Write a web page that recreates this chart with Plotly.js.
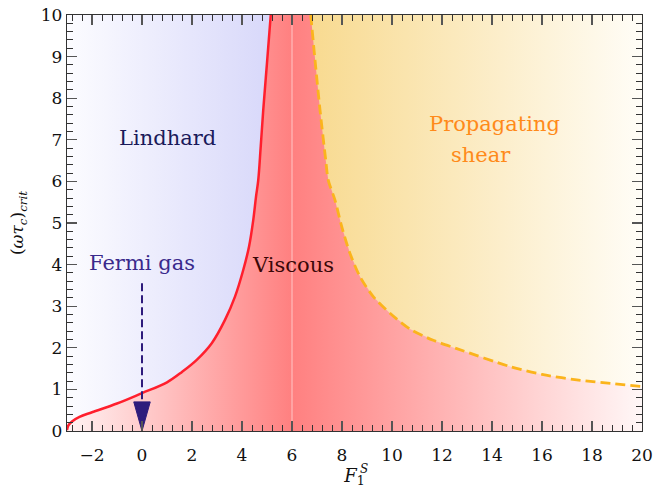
<!DOCTYPE html>
<html>
<head>
<meta charset="utf-8">
<script src="https://cdn.plot.ly/plotly-3.0.1.min.js"></script>
<style>html,body{margin:0;padding:0;background:#fff;}#chart{width:654px;height:495px;}</style>
</head>
<body>
<div id="chart"></div>
<script>
// Boundary between Lindhard and Viscous regimes (solid red)
const redX = [-3, -2.95, -2.8, -2.5, -2, -1, 0, 1, 1.6, 2.19, 2.79, 3.32, 3.72, 4.05, 4.28, 4.45, 4.56, 4.65, 4.75, 4.85, 5.0, 5.15];
const redY = [0.02, 0.13, 0.23, 0.34, 0.45, 0.66, 0.91, 1.17, 1.42, 1.71, 2.11, 2.67, 3.23, 3.87, 4.43, 5.07, 5.63, 6.03, 6.85, 7.72, 8.85, 10];
// Boundary between Viscous and Propagating shear regimes (dashed orange)
const orangeX = [6.75, 6.92, 7.12, 7.35, 7.45, 7.72, 7.99, 8.32, 8.72, 9.25, 9.92, 10.72, 11.65, 12.59, 14.72, 16, 17.39, 20];
const orangeY = [10, 8.92, 7.72, 6.51, 6.03, 5.55, 4.91, 4.27, 3.71, 3.23, 2.83, 2.45, 2.18, 1.98, 1.55, 1.36, 1.23, 1.07];
// Axis ranges and ticks
const xRange = [-3, 20];
const yRange = [0, 10];
const xTicks = [-2, 0, 2, 4, 6, 8, 10, 12, 14, 16, 18, 20];
const yTicks = [0, 1, 2, 3, 4, 5, 6, 7, 8, 9, 10];
const xSplit = 6;            // gradient peak of the viscous region
const fermiX = 0;            // Fermi gas point
const fermiArrowTop = 3.55;  // arrow starts here
const regionLabels = ["Lindhard", "Fermi gas", "Viscous", "Propagating", "shear"];

const [x0, x1] = xRange, [y0, y1] = yRange;

const traces = [];
// Viscous region, left half
traces.push({x:[x0, xSplit, xSplit, x0, x0], y:[y0, y0, y1, y1, y0], mode:'lines', line:{width:0},
  fill:'toself', fillgradient:{type:'horizontal', start:x0, stop:xSplit, colorscale:[[0,'#fff3f3'],[1,'#ff8080']]},
  hoverinfo:'skip', showlegend:false});
// Viscous region, right half
traces.push({x:[xSplit, x1, x1, xSplit, xSplit], y:[y0, y0, y1, y1, y0], mode:'lines', line:{width:0},
  fill:'toself', fillgradient:{type:'horizontal', start:xSplit, stop:x1, colorscale:[[0,'#ff8080'],[1,'#fff7f7']]},
  hoverinfo:'skip', showlegend:false});
// Lindhard region (above red curve)
traces.push({x:redX.concat([x0, x0]), y:redY.concat([y1, redY[0]]), mode:'lines', line:{width:0},
  fill:'toself', fillgradient:{type:'horizontal', start:x0, stop:redX[redX.length-1], colorscale:[[0,'#fcfcff'],[1,'#d8d8fa']]},
  hoverinfo:'skip', showlegend:false});
// Propagating shear region (above orange curve)
traces.push({x:orangeX.concat([x1, orangeX[0]]), y:orangeY.concat([y1, orangeY[0]]), mode:'lines', line:{width:0},
  fill:'toself', fillgradient:{type:'horizontal', start:orangeX[0], stop:x1, colorscale:[[0,'#f8da90'],[1,'#fffdf7']]},
  hoverinfo:'skip', showlegend:false});
// Seam line at xSplit
traces.push({x:[xSplit, xSplit], y:[y0, y1], mode:'lines', line:{color:'rgba(255,255,255,0.55)', width:1}, hoverinfo:'skip', showlegend:false});
// Red boundary
traces.push({x:redX, y:redY, mode:'lines', line:{color:'#ff1f2d', width:2.5, shape:'spline', smoothing:1}, showlegend:false});
// Orange dashed boundary
traces.push({x:orangeX, y:orangeY, mode:'lines', line:{color:'#fbb41c', width:2.8, dash:'10px,5px', shape:'spline', smoothing:0.8}, showlegend:false});
// Fermi gas arrow: dashed shaft + triangular head
const headLen = 0.7, headHalf = 0.33;
traces.push({x:[fermiX, fermiX], y:[fermiArrowTop, y0 + headLen], mode:'lines', line:{color:'#2e1c7c', width:2, dash:'8px,4px'}, showlegend:false});
traces.push({x:[fermiX - headHalf, fermiX + headHalf, fermiX, fermiX - headHalf], y:[y0 + headLen, y0 + headLen, y0, y0 + headLen],
  mode:'lines', line:{color:'#2e1c7c', width:1}, fill:'toself', fillcolor:'#2e1c7c', showlegend:false});

const serif = 'DejaVu Serif, Liberation Serif, serif';
const axisCommon = {
  showgrid:false, zeroline:false, showline:true, linecolor:'#333', linewidth:1.3, mirror:'allticks',
  ticks:'inside', ticklen:10, tickwidth:1.2, tickcolor:'#555',
  tickfont:{family:serif, size:17, color:'#111'}
};

const layout = {
  width:654, height:495,
  margin:{l:67, r:12, t:15, b:64},
  paper_bgcolor:'#fff', plot_bgcolor:'#fff',
  font:{family:serif},
  xaxis:Object.assign({}, axisCommon, {
    range:xRange, tickvals:xTicks, ticktext:xTicks.map(v => v < 0 ? '\u2212' + Math.abs(v) : String(v)),
    ticklabelstandoff:8,
    minor:{dtick:0.4, tick0:0, ticks:'inside', ticklen:6, tickwidth:1, tickcolor:'#333'},
    title:{text:'<i>F</i><sub>1</sub>', font:{family:serif, size:18, color:'#111'}, standoff:4}
  }),
  yaxis:Object.assign({}, axisCommon, {
    range:yRange, tickvals:yTicks,
    minor:{dtick:0.2, tick0:0, ticks:'inside', ticklen:6, tickwidth:1, tickcolor:'#333'},
    title:{text:'(<i>ωτ</i><sub><i>c</i></sub>)<sub><i>crit</i></sub>', font:{family:serif, size:17, color:'#111'}, standoff:12}
  }),
  annotations:[
    {x:1.02, y:7.04, text:regionLabels[0], showarrow:false, font:{family:serif, size:21, color:'#1a1a5a'}},
    {x:fermiX, y:4.05, text:regionLabels[1], showarrow:false, font:{family:serif, size:21, color:'#3a2a8c'}},
    {x:6.02, y:3.99, text:regionLabels[2], showarrow:false, font:{family:serif, size:21, color:'#3a0808'}},
    {x:14.08, y:7.38, text:regionLabels[3], showarrow:false, font:{family:serif, size:21, color:'#ff8a1a'}},
    {x:13.54, y:6.63, text:regionLabels[4], showarrow:false, font:{family:serif, size:21, color:'#ff8a1a'}},
    {xref:'paper', yref:'paper', x:0.5, y:0, xshift:9, yshift:-47, text:'<i>S</i>', showarrow:false, font:{family:serif, size:12, color:'#111'}}
  ]
};

Plotly.newPlot('chart', traces, layout, {staticPlot:true, displayModeBar:false});
</script>
</body>
</html>
